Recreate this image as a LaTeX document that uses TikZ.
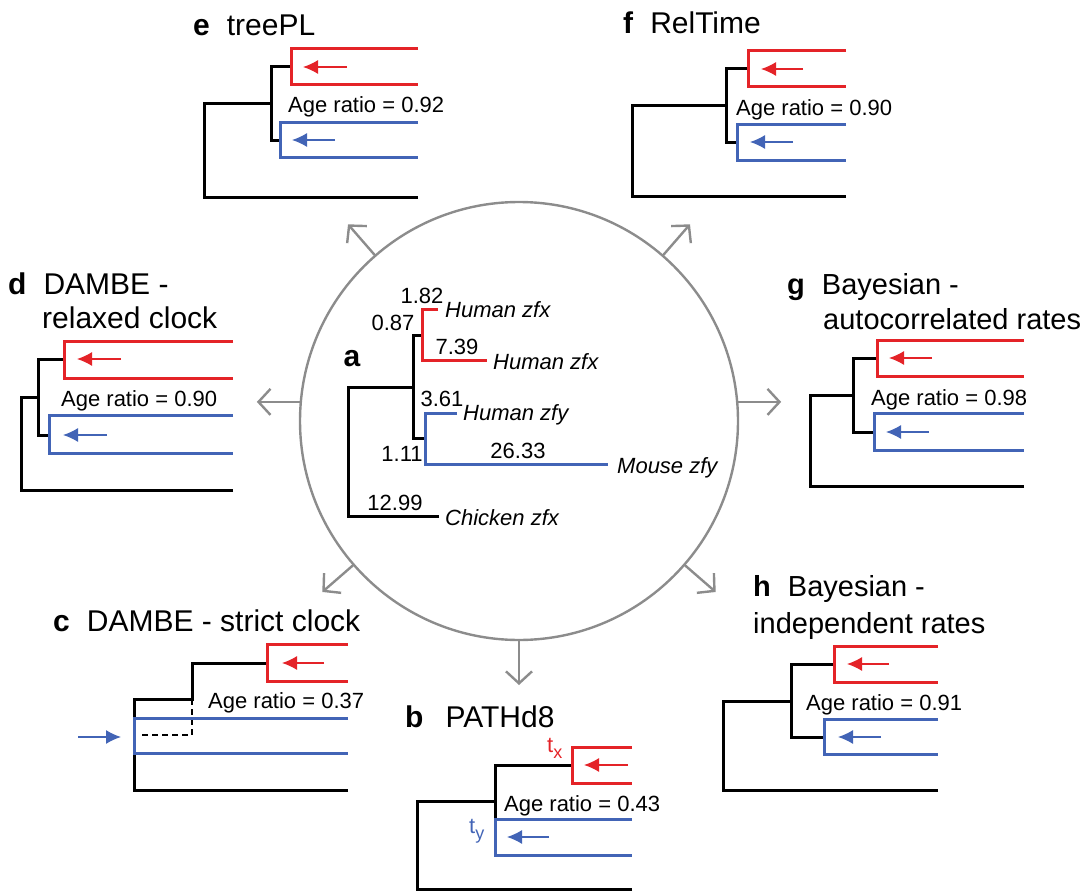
\documentclass[tikz,border=0pt]{standalone}
\usepackage{fontspec}
\setmainfont{Liberation Sans}
\usetikzlibrary{arrows.meta,calc}
\definecolor{cred}{RGB}{228,35,40}
\definecolor{cblue}{RGB}{66,100,182}
\definecolor{cgray}{RGB}{140,140,140}

\begin{document}
\begin{tikzpicture}[x=1pt,y=-1pt,
  blk/.style={draw=black,line width=3pt},
  rd/.style={draw=cred,line width=3pt},
  bl/.style={draw=cblue,line width=3pt},
  rptr/.style={cred,line width=1.4pt,-{Latex[length=15pt,width=14pt]}},
  bptr/.style={cblue,line width=1.4pt,-{Latex[length=15pt,width=14pt]}},
  garrow/.style={cgray,line width=2.4pt,-{Straight Barb[length=12pt,width=26pt]}},
  lab/.style={inner sep=0pt,font=\fontsize{22}{26}\selectfont},
  num/.style={lab,anchor=base},
  ttl/.style={inner sep=0pt,anchor=base west,font=\fontsize{30}{36}\selectfont},
  ratio/.style={lab,anchor=base west}]
\useasboundingbox (0,0) rectangle (1088,891);

% ---------- central tree (a) ----------
\node[circle,draw=cgray,line width=2.4pt,minimum size=438pt,inner sep=0pt,outer sep=0pt] (circ) at (519,421) {};

\draw[blk] (439,516) -| (348,387) -| (413,335) -- (422,335);
\draw[blk] (413,387) |- (425,438);
\draw[rd] (438,309) -| (422,360) -- (487,360);
\draw[bl] (457,413) -| (425,464) -- (608,464);

\node[ttl,font=\fontsize{30}{36}\selectfont\bfseries,anchor=base] (la) at (352,366) {a};
\node[num] (n182) at (422,303) {1.82};
\node[num] (n087) at (393,330) {0.87};
\node[num] (n739) at (457,354) {7.39};
\node[num] (n361) at (442,406) {3.61};
\node[num] (n111) at (402,461) {1.11};
\node[num] (n2633) at (518,458) {26.33};
\node[num] (n1299) at (395,510) {12.99};
\node[lab,anchor=base west,font=\fontsize{22}{26}\selectfont\itshape] (t1) at (445,317) {Human zfx};
\node[lab,anchor=base west,font=\fontsize{22}{26}\selectfont\itshape] (t2) at (493,369) {Human zfx};
\node[lab,anchor=base west,font=\fontsize{22}{26}\selectfont\itshape] (t3) at (463,420) {Human zfy};
\node[lab,anchor=base west,font=\fontsize{22}{26}\selectfont\itshape] (t4) at (617,473) {Mouse zfy};
\node[lab,anchor=base west,font=\fontsize{22}{26}\selectfont\itshape] (t5) at (445,525) {Chicken zfx};

% ---------- arrows leading out of the circle ----------
\draw[garrow] (circ.175) -- ++(-44,0);
\draw[garrow] (circ.5)   -- ++(44,0);
\draw[garrow] (circ.131) -- ($(circ.center)!1.19!(circ.131)$);
\draw[garrow] (circ.49)  -- ($(circ.center)!1.19!(circ.49)$);
\draw[garrow] (circ.221) -- ($(circ.center)!1.19!(circ.221)$);
\draw[garrow] (circ.319) -- ($(circ.center)!1.19!(circ.319)$);
\draw[garrow] (circ.270) -- ++(0,45);

% ---------- e treePL ----------
\node[ttl] (te) at (193,36) {\textbf{e}\hspace{17pt}treePL};
\draw[blk] (418,197) -| (204,104) -| (271,67) -- (291,67);
\draw[blk] (271,104) |- (280,140);
\draw[rd] (418,49) -| (291,85) -- (418,85);
\draw[bl] (418,122) -| (280,157) -- (418,157);
\draw[rptr] (347,67) -- (303,67);
\draw[bptr] (335,140) -- (292,140);
\node[ratio] (re) at (288,113) {Age ratio = 0.92};

% ---------- f RelTime ----------
\node[ttl] (tf) at (623,34) {\textbf{f}\hspace{17pt}RelTime};
\draw[blk] (846,196) -| (632,106) -| (726,69) -- (748,69);
\draw[blk] (726,106) |- (737,142);
\draw[rd] (846,51) -| (748,87) -- (846,87);
\draw[bl] (846,124) -| (737,160) -- (846,160);
\draw[rptr] (803,69) -- (761,69);
\draw[bptr] (793,142) -- (750,142);
\node[ratio] (rf) at (736,115) {Age ratio = 0.90};

% ---------- d DAMBE relaxed clock ----------
\node[ttl] (td) at (8,294) {\textbf{d}\hspace{17pt}DAMBE -};
\node[ttl] (td2) at (42,328) {relaxed clock};
\draw[blk] (233,490) -| (21,397) -| (38,359) -- (64,359);
\draw[blk] (38,397) |- (49,435);
\draw[rd] (233,341) -| (64,378) -- (233,378);
\draw[bl] (233,415) -| (49,453) -- (233,453);
\draw[rptr] (121,359) -- (77,359);
\draw[bptr] (107,435) -- (63,435);
\node[ratio] (rd) at (61,406) {Age ratio = 0.90};

% ---------- g Bayesian autocorrelated ----------
\node[ttl,font=\fontsize{29}{35}\selectfont] (tg) at (787,294) {\textbf{g}\hspace{17pt}Bayesian -};
\node[ttl,font=\fontsize{29}{35}\selectfont] (tg2) at (823,329) {autocorrelated rates};
\draw[blk] (1024,486) -| (810,395) -| (853,358) -- (877,358);
\draw[blk] (853,395) |- (874,432);
\draw[rd] (1024,340) -| (877,376) -- (1024,376);
\draw[bl] (1024,413) -| (874,450) -- (1024,450);
\draw[rptr] (932,358) -- (889,358);
\draw[bptr] (929,432) -- (886,432);
\node[ratio] (rg) at (871,405) {Age ratio = 0.98};

% ---------- h Bayesian independent ----------
\node[ttl,font=\fontsize{29}{35}\selectfont] (th) at (753,596) {\textbf{h}\hspace{17pt}Bayesian -};
\node[ttl,font=\fontsize{29}{35}\selectfont] (th2) at (753,633) {independent rates};
\draw[blk] (938,790) -| (723,701) -| (791,664) -- (834,664);
\draw[blk] (791,701) |- (824,737);
\draw[rd] (938,646) -| (834,682) -- (938,682);
\draw[bl] (938,719) -| (824,754) -- (938,754);
\draw[rptr] (889,664) -- (847,664);
\draw[bptr] (881,737) -- (838,737);
\node[ratio] (rh) at (806,710) {Age ratio = 0.91};

% ---------- c DAMBE strict clock ----------
\node[ttl] (tc) at (53,631) {\textbf{c}\hspace{17pt}DAMBE - strict clock};
\draw[blk] (348,790) -| (134,753);
\draw[blk] (134,718) -- (134,699) -- (192,699) -- (192,663) -- (267,663);
\draw[black,line width=2.6pt,dash pattern=on 6pt off 4pt] (192,699) -- (192,735) -- (140,735);
\draw[rd] (348,644) -| (267,681) -- (348,681);
\draw[bl] (348,718) -| (134,753) -- (348,753);
\draw[rptr] (324,663) -- (282,663);
\draw[bptr] (78,737) -- (121,737);
\node[ratio] (rc) at (208,708) {Age ratio = 0.37};

% ---------- b PATHd8 ----------
\node[ttl] (tb) at (405,727) {\textbf{b}\hspace{22pt}PATHd8};
\draw[blk] (632,889) -| (417,801) -| (495,765) -- (572,765);
\draw[blk] (495,801) -- (495,819);
\draw[rd] (632,747) -| (572,783) -- (632,783);
\draw[bl] (632,819) -| (495,855) -- (632,855);
\draw[rptr] (628,765) -- (584,765);
\draw[bptr] (549,837) -- (507,837);
\node[lab,text=cred,anchor=base west] (tx) at (547,752) {t\raisebox{-6pt}{\fontsize{18}{20}\selectfont x}};
\node[lab,text=cblue,anchor=base west] (ty) at (469,833) {t\raisebox{-6pt}{\fontsize{18}{20}\selectfont y}};
\node[ratio] (rb) at (504,811) {Age ratio = 0.43};
\end{tikzpicture}
\end{document}
